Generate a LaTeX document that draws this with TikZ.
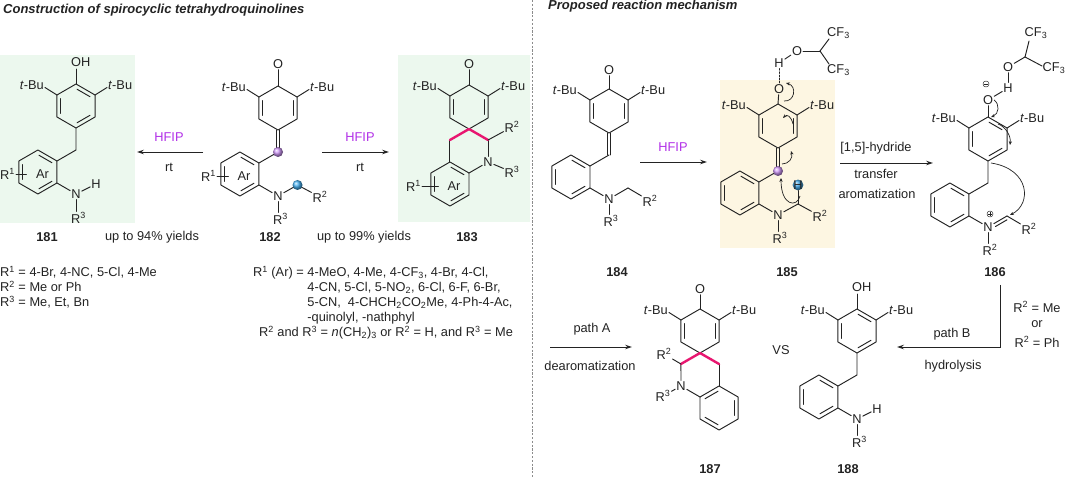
\documentclass[tikz,border=0pt]{standalone}
\usepackage{fontspec}
\setmainfont{Liberation Sans}
\usetikzlibrary{calc,arrows.meta}
\definecolor{bondc}{RGB}{35,35,35}
\definecolor{hfipc}{RGB}{178,48,232}
\definecolor{pinkc}{RGB}{232,22,112}
\definecolor{greenbg}{RGB}{236,248,238}
\definecolor{yellowbg}{RGB}{253,246,226}
\definecolor{purpball}{RGB}{205,150,245}
\definecolor{blueball}{RGB}{70,175,240}
\definecolor{divc}{RGB}{140,140,140}
\newcommand{\mfont}{\fontsize{12.8}{15}\selectfont}
\newcommand{\hexR}[3]{%
  \coordinate (#1C) at (#2,#3);
  \coordinate (#1T) at (#2,#3-22);
  \coordinate (#1UR) at (#2+19.05,#3-11);
  \coordinate (#1LR) at (#2+19.05,#3+11);
  \coordinate (#1B) at (#2,#3+22);
  \coordinate (#1LL) at (#2-19.05,#3+11);
  \coordinate (#1UL) at (#2-19.05,#3-11);}
\newcommand{\hexD}[1]{\draw[bond] (#1T)--(#1UR)--(#1LR)--(#1B)--(#1LL)--(#1UL)--cycle;}
\newcommand{\dbl}[3]{\draw[bond,shorten <=1.2pt,shorten >=1.2pt] ($(#1#2)!0.21!(#1C)$) -- ($(#1#3)!0.21!(#1C)$);}
\newcommand{\vdb}[2]{\draw[bond] ($(#1)+(-1.9,0)$) -- ($(#2)+(-1.9,0)$);\draw[bond] ($(#1)+(1.9,0)$) -- ($(#2)+(1.9,0)$);}
\newcommand{\tbu}[3]{%
  \coordinate (#1tbl) at (#2-31,#3-18.5);
  \coordinate (#1tbr) at (#2+31,#3-18.5);
  \draw[bond] (#1UL) -- (#1tbl);
  \draw[bond] (#1UR) -- (#1tbr);
  \node[anchor=east] (#1TBL) at (#2-31,#3-21) {\textit{t}-Bu};
  \node[anchor=west] (#1TBR) at (#2+31,#3-21) {\textit{t}-Bu};}
\begin{document}
\begin{tikzpicture}[x=1pt,y=-1pt,
 every node/.style={font=\mfont,inner sep=1pt,text=bondc},
 bond/.style={line width=0.95pt,draw=bondc,line cap=round,line join=round},
 pinkbond/.style={line width=2.4pt,draw=pinkc,line cap=round},
 rxn/.style={line width=0.95pt,draw=bondc,-{Stealth[length=7pt,width=4.6pt]}},
 curv/.style={line width=0.7pt,draw=bondc,-{Stealth[length=3.8pt,width=3.2pt]}},
 cond/.style={text=hfipc},
 cmpd/.style={font=\mfont\bfseries},
 chg/.style={circle,draw=bondc,line width=0.45pt,minimum size=6pt,inner sep=0pt}]
\fill[white] (0,0) rectangle (1065,478);
\useasboundingbox (0,0) rectangle (1065,478);
% boxes and divider
\fill[greenbg] (0,55) rectangle (135,223);
\fill[greenbg] (398,55) rectangle (530,222);
\fill[yellowbg] (720,80) rectangle (835,248);
\draw[divc,line width=0.9pt,dash pattern=on 2.2pt off 1.6pt] (532,0) -- (532,478);
% titles
\node[anchor=base west,font=\fontsize{13}{15}\selectfont\bfseries\itshape] (ttl1) at (2,14) {Construction of spirocyclic tetrahydroquinolines};
\node[anchor=base west,font=\fontsize{13}{15}\selectfont\bfseries\itshape] (ttl2) at (547,9.5) {Proposed reaction mechanism};

% ===== 181 =====
\hexR{pa}{76}{106}
\hexD{pa}
\dbl{pa}{T}{UR}\dbl{pa}{LR}{B}\dbl{pa}{LL}{UL}
\coordinate (paO) at (76,69);
\draw[bond] (paT) -- (paO);
\node[anchor=west] (paOH) at (70,62) {OH};
\tbu{pa}{76}{106}
\coordinate (paM) at (76,150);
\hexR{qa}{37.9}{172}
\draw[bond] (paB) -- (paM) -- (qaUR);
\hexD{qa}
\dbl{qa}{T}{UR}\dbl{qa}{LR}{B}\dbl{qa}{LL}{UL}
\node[anchor=west] (qaR) at (-1,174) {R\textsuperscript{1}};
\coordinate (qaRe) at (26.5,174);
\draw[bond] (qaR.east) -- (qaRe);
\node (qaAr) at (42.5,174) {Ar};
\node (naN) at (76,194) {N};
\draw[bond] (qaLR) -- (naN);
\node (naH) at (96,184) {H};
\draw[bond] (naN) -- (naH);
\node (naR) at (78.5,218) {R\textsuperscript{3}};
\draw[bond] (naN.south) -- (naN.south |- naR.north);
\node[cmpd] (la) at (47,237) {181};

% ===== 182 =====
\hexR{pb}{278}{108}
\hexD{pb}
\dbl{pb}{UL}{LL}\dbl{pb}{UR}{LR}
\node (pbO) at (278,64) {O};
\draw[bond] (pbT) -- (pbO);
\tbu{pb}{278}{108}
\coordinate (pbX) at (278,152);
\vdb{pbB}{pbX}
\hexR{qb}{239.9}{174}
\draw[bond] (pbX) -- (qbUR);
\hexD{qb}
\dbl{qb}{T}{UR}\dbl{qb}{LR}{B}\dbl{qb}{LL}{UL}
\shade[ball color=purpball] (pbX) circle (5);
\node[anchor=west] (qbR) at (200,176) {R\textsuperscript{1}};
\coordinate (qbRe) at (228.5,176);
\draw[bond] (qbR.east) -- (qbRe);
\node (qbAr) at (244,176) {Ar};
\node (nbN) at (278,196) {N};
\draw[bond] (qbLR) -- (nbN);
\coordinate (nbX) at (297.5,185);
\draw[bond] (nbN) -- (nbX);
\node (nbR2) at (320,197) {R\textsuperscript{2}};
\draw[bond] (nbX) -- (nbR2);
\shade[ball color=blueball] (nbX) circle (5);
\node (nbR3) at (280.5,219) {R\textsuperscript{3}};
\draw[bond] (nbN.south) -- (nbN.south |- nbR3.north);
\node[cmpd] (lb) at (270,237) {182};

% ===== 183 =====
\hexR{pc}{469}{107}
\hexD{pc}
\dbl{pc}{UL}{LL}\dbl{pc}{UR}{LR}
\node (pcO) at (469,64) {O};
\draw[bond] (pcT) -- (pcO);
\tbu{pc}{469}{107}
\hexR{sc}{469}{151}
\hexR{qc}{449.95}{184}
\hexD{qc}
\dbl{qc}{T}{UR}\dbl{qc}{LR}{B}\dbl{qc}{LL}{UL}
\draw[bond] (scUL) -- (scLL);
\node (ncN) at (488.05,162) {N};
\draw[bond] (scUR) -- (ncN);
\draw[bond] (ncN) -- (scB);
\draw[pinkbond] (scT) -- (scUL);
\draw[pinkbond] (scT) -- (scUR);
\node (ncR2) at (512,127) {R\textsuperscript{2}};
\draw[bond] (scUR) -- (ncR2);
\node (ncR3) at (512,172) {R\textsuperscript{3}};
\draw[bond] (ncN) -- (ncR3);
\node[anchor=west] (qcR) at (405,186) {R\textsuperscript{1}};
\coordinate (qcRe) at (438.5,186);
\draw[bond] (qcR.east) -- (qcRe);
\node (qcAr) at (454,186) {Ar};
\node[cmpd] (lc) at (467,237) {183};

% ===== left arrows =====
\coordinate (a1s) at (203,152); \coordinate (a1e) at (137,152);
\draw[rxn] (a1s) -- (a1e);
\node[cond] (a1t) at (169,137) {HFIP};
\node (a1b) at (169,167) {rt};
\coordinate (a2s) at (322,152); \coordinate (a2e) at (389,152);
\draw[rxn] (a2s) -- (a2e);
\node[cond] (a2t) at (360,137) {HFIP};
\node (a2b) at (360,167) {rt};
\node (y1) at (152,237) {up to 94\% yields};
\node (y2) at (364,237) {up to 99\% yields};

% ===== text blocks =====
\node[anchor=base west] (tl1) at (-1,276.5) {R\textsuperscript{1} = 4-Br, 4-NC, 5-Cl, 4-Me};
\node[anchor=base west] (tl2) at (-1,291.5) {R\textsuperscript{2} = Me or Ph};
\node[anchor=base west] (tl3) at (-1,306.5) {R\textsuperscript{3} = Me, Et, Bn};
\node[anchor=base west] (tr1) at (252,276.5) {R\textsuperscript{1} (Ar) = 4-MeO, 4-Me, 4-CF\textsubscript{3}, 4-Br, 4-Cl,};
\node[anchor=base west] (tr2) at (252,291.5) {\phantom{R\textsuperscript{1} (Ar) = }4-CN, 5-Cl, 5-NO\textsubscript{2}, 6-Cl, 6-F, 6-Br,};
\node[anchor=base west] (tr3) at (252,306.5) {\phantom{R\textsuperscript{1} (Ar) = }5-CN,\ \ 4-CHCH\textsubscript{2}CO\textsubscript{2}Me, 4-Ph-4-Ac,};
\node[anchor=base west] (tr4) at (252,321.5) {\phantom{R\textsuperscript{1} (Ar) = }-quinolyl, -nathphyl};
\node[anchor=base west] (tr5) at (258,336.5) {R\textsuperscript{2} and R\textsuperscript{3} = \textit{n}(CH\textsubscript{2})\textsubscript{3} or R\textsuperscript{2} = H, and R\textsuperscript{3} = Me};

% ===== 184 =====
\hexR{pd}{609}{111}
\hexD{pd}
\dbl{pd}{UL}{LL}\dbl{pd}{UR}{LR}
\node (pdO) at (609,70) {O};
\draw[bond] (pdT) -- (pdO);
\tbu{pd}{609}{111}
\coordinate (pdX) at (609,155);
\vdb{pdB}{pdX}
\hexR{qd}{570.95}{177}
\draw[bond] (pdX) -- (qdUR);
\hexD{qd}
\dbl{qd}{T}{UR}\dbl{qd}{LR}{B}\dbl{qd}{LL}{UL}
\node (ndN) at (609,199) {N};
\draw[bond] (qdLR) -- (ndN);
\coordinate (ndM) at (628,188);
\draw[bond] (ndN) -- (ndM);
\node (ndR2) at (650,201) {R\textsuperscript{2}};
\draw[bond] (ndM) -- (ndR2);
\node (ndR3) at (611,221) {R\textsuperscript{3}};
\draw[bond] (ndN.south) -- (ndN.south |- ndR3.north);
\node[cmpd] (ld) at (617,272) {184};
\coordinate (a3s) at (640,162); \coordinate (a3e) at (707,162);
\draw[rxn] (a3s) -- (a3e);
\node[cond] (a3t) at (673,147) {HFIP};

% ===== 185 =====
\hexR{pe}{778}{126}
\hexD{pe}
\dbl{pe}{UL}{LL}\dbl{pe}{UR}{LR}
\node (peO) at (779,89) {O};
\draw[bond] (peT) -- (peO);
\node (peH) at (779,63) {H};
\draw[bond,dash pattern=on 1.6pt off 1.6pt] (peH) -- (peO);
\node (peO2) at (797,51) {O};
\draw[bond] (peH) -- (peO2);
\coordinate (peC) at (820,51);
\draw[bond] (peO2) -- (peC);
\node[anchor=west] (peF1) at (826,33) {CF\textsubscript{3}};
\node[anchor=west] (peF2) at (826,70) {CF\textsubscript{3}};
\coordinate (peF1e) at (829,39); \coordinate (peF2e) at (829,64);
\draw[bond] (peC) -- (peF1e);
\draw[bond] (peC) -- (peF2e);
\tbu{pe}{778}{126}
\coordinate (peX) at (778,171);
\vdb{peB}{peX}
\hexR{qe}{739.9}{193}
\draw[bond] (peX) -- (qeUR);
\hexD{qe}
\dbl{qe}{T}{UR}\dbl{qe}{LR}{B}\dbl{qe}{LL}{UL}
\shade[ball color=purpball] (peX) circle (5);
\node (neN) at (778,215) {N};
\draw[bond] (qeLR) -- (neN);
\coordinate (neM) at (798,204);
\draw[bond] (neN) -- (neM);
\node (neR2) at (820,216) {R\textsuperscript{2}};
\draw[bond] (neM) -- (neR2);
\node (neR3) at (780,238) {R\textsuperscript{3}};
\draw[bond] (neN.south) -- (neN.south |- neR3.north);
\shade[ball color=blueball] (798,185) circle (5.4);
\node (neH) at (798,185) {H};
\draw[bond] (neM) -- (neH);
% curved arrows 185
\coordinate (c1s) at (784,101); \coordinate (c1e) at (786,83);
\draw[curv] (c1s) .. controls (795,102) and (797,86) .. (c1e);
\coordinate (c2s) at (793,124); \coordinate (c2e) at (783,118);
\draw[curv] (c2s) .. controls (791,116) and (787,114) .. (c2e);
\coordinate (c3s) at (782,164); \coordinate (c3e) at (791,151);
\draw[curv] (c3s) .. controls (789,164) and (793,158) .. (c3e);
\coordinate (c4s) at (800,196); \coordinate (c4e) at (781,178);
\draw[curv] (c4s) .. controls (797,208) and (781,206) .. (c4e);
\node[cmpd] (le) at (787,272) {185};
% arrow 185 -> 186
\coordinate (a4s) at (840,163); \coordinate (a4e) at (933,163);
\draw[rxn] (a4s) -- (a4e);
\node (a4t) at (876,148) {[1,5]-hydride};
\node (a4b) at (876,174) {transfer};
\node (a4c) at (877,194) {aromatization};

% ===== 186 =====
\hexR{pf}{988}{139}
\hexD{pf}
\dbl{pf}{T}{UR}\dbl{pf}{LR}{B}\dbl{pf}{LL}{UL}
\node (pfO) at (988,100) {O};
\draw[bond] (pfT) -- (pfO);
\node[chg] (pfm) at (986,84) {};
\draw[line width=0.45pt,draw=bondc] ($(pfm.center)+(-1.7,0)$) -- ($(pfm.center)+(1.7,0)$);
\node (pfH) at (1008,88) {H};
\draw[bond] (pfO) -- (pfH);
\node (pfO2) at (1008,67) {O};
\draw[bond] (pfH) -- (pfO2);
\coordinate (pfC) at (1025,57);
\draw[bond] (pfO2) -- (pfC);
\node (pfF1) at (1036,33) {CF\textsubscript{3}};
\node (pfF2) at (1054,68) {CF\textsubscript{3}};
\coordinate (pfF1e) at (1029,41); \coordinate (pfF2e) at (1042,66);
\draw[bond] (pfC) -- (pfF1e);
\draw[bond] (pfC) -- (pfF2e);
\tbu{pf}{988}{139}
\coordinate (pfM) at (988,183);
\hexR{qf}{949.9}{205}
\draw[bond] (pfB) -- (pfM) -- (qfUR);
\hexD{qf}
\dbl{qf}{T}{UR}\dbl{qf}{LR}{B}\dbl{qf}{LL}{UL}
\node (nfN) at (988,227) {N};
\draw[bond] (qfLR) -- (nfN);
\node[chg] (nfp) at (990,214) {};
\draw[line width=0.45pt,draw=bondc] ($(nfp.center)+(-1.7,0)$) -- ($(nfp.center)+(1.7,0)$);
\draw[line width=0.45pt,draw=bondc] ($(nfp.center)+(0,-1.7)$) -- ($(nfp.center)+(0,1.7)$);
\coordinate (nfC) at (1007,216);
\draw[bond] (nfN) -- (nfC);
\coordinate (nfd1) at (995.5,226.5); \coordinate (nfd2) at (1007,219.8);
\draw[bond] (nfd1) -- (nfd2);
\node (nfR2) at (1029,229) {R\textsuperscript{2}};
\draw[bond] (nfC) -- (nfR2);
\node (nfR3) at (990,250) {R\textsuperscript{2}};
\draw[bond] (nfN.south) -- (nfN.south |- nfR3.north);
% curved arrows 186
\coordinate (d1s) at (994,100); \coordinate (d1e) at (991,117);
\draw[curv] (d1s) .. controls (1000,104) and (999,114) .. (d1e);
\coordinate (d2s) at (998,124); \coordinate (d2e) at (1010,145);
\draw[curv] (d2s) .. controls (1006,127) and (1011,136) .. (d2e);
\coordinate (d3s) at (991,163); \coordinate (d3e) at (1010,215);
\draw[curv] (d3s) .. controls (1030,169) and (1032,204) .. (d3e);
\node[cmpd] (lf) at (995,272) {186};
% path B
\coordinate (b1) at (1000,285); \coordinate (b2) at (1000,347); \coordinate (b3) at (897,347);
\draw[rxn] (b1) -- (b2) -- (b3);
\node (bt1) at (1037,307) {R\textsuperscript{2} = Me};
\node (bt2) at (1037,324) {or};
\node (bt3) at (1037,342) {R\textsuperscript{2} = Ph};
\node (bt4) at (952,334) {path B};
\node (bt5) at (953,366) {hydrolysis};
% path A
\coordinate (p1) at (550,347); \coordinate (p2) at (632,347);
\draw[rxn] (p1) -- (p2);
\node (pt1) at (592,329) {path A};
\node (pt2) at (590,366) {dearomatization};

% ===== 187 =====
\hexR{pg}{700}{331}
\hexD{pg}
\dbl{pg}{UL}{LL}\dbl{pg}{UR}{LR}
\node (pgO) at (700,289) {O};
\draw[bond] (pgT) -- (pgO);
\tbu{pg}{700}{331}
\hexR{sg}{700}{375}
\hexR{qg}{719.05}{408}
\hexD{qg}
\dbl{qg}{UR}{LR}\dbl{qg}{LL}{B}\dbl{qg}{T}{UL}
\node (ngN) at (681,386) {N};
\draw[bond] (sgUL) -- (ngN);
\draw[bond] (ngN) -- (sgB);
\draw[bond] (sgUR) -- (sgLR);
\draw[pinkbond] (sgT) -- (sgUL);
\draw[pinkbond] (sgT) -- (sgUR);
\node (ngR2) at (664,354) {R\textsuperscript{2}};
\draw[bond] (sgUL) -- (ngR2);
\node (ngR3) at (663,396) {R\textsuperscript{3}};
\draw[bond] (ngN) -- (ngR3);
\node[cmpd] (lg) at (710,469) {187};
\node (vs) at (781,350) {VS};

% ===== 188 =====
\hexR{ph}{857}{331}
\hexD{ph}
\dbl{ph}{T}{UR}\dbl{ph}{LR}{B}\dbl{ph}{LL}{UL}
\coordinate (phO) at (857,294);
\draw[bond] (phT) -- (phO);
\node[anchor=west] (phOH) at (851,287) {OH};
\tbu{ph}{857}{331}
\coordinate (phM) at (857,375);
\hexR{qh}{818.9}{397}
\draw[bond] (phB) -- (phM) -- (qhUR);
\hexD{qh}
\dbl{qh}{T}{UR}\dbl{qh}{LR}{B}\dbl{qh}{LL}{UL}
\node (nhN) at (857,419) {N};
\draw[bond] (qhLR) -- (nhN);
\node (nhH) at (877,409) {H};
\draw[bond] (nhN) -- (nhH);
\node (nhR3) at (859.5,442) {R\textsuperscript{3}};
\draw[bond] (nhN.south) -- (nhN.south |- nhR3.north);
\node[cmpd] (lh) at (848,469) {188};
\end{tikzpicture}
\end{document}
